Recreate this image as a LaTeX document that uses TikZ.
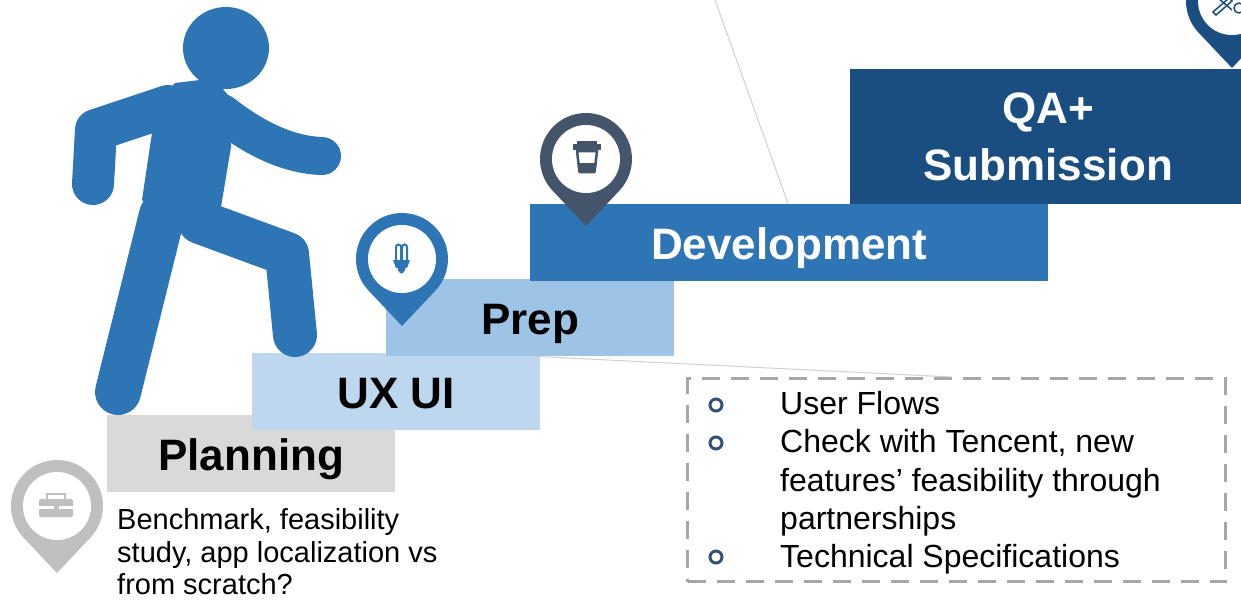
\documentclass[tikz,border=0pt]{standalone}
\usepackage{fontspec}
\setmainfont{Liberation Sans}
\definecolor{figblue}{HTML}{2E75B6}
\definecolor{plangray}{HTML}{D9D9D9}
\definecolor{uxblue}{HTML}{BDD7EE}
\definecolor{prepblue}{HTML}{9DC3E6}
\definecolor{devblue}{HTML}{2E75B6}
\definecolor{qablue}{HTML}{1B4E80}
\definecolor{slate}{HTML}{44546A}
\definecolor{bulletblue}{HTML}{34507A}
\definecolor{pingray}{HTML}{BFBFBF}
\definecolor{dashgray}{HTML}{A6A6A6}
\definecolor{leadgray}{HTML}{D0D0D0}
\begin{document}
\begin{tikzpicture}[x=1pt,y=-1pt,
  stepbox/.style={rectangle, inner sep=0pt, anchor=north west,
    font=\fontsize{44}{57}\selectfont\bfseries, align=center},
  oneline/.style={text height=34pt, text depth=0pt},
  bodytext/.style={anchor=base west, inner sep=0pt, font=\fontsize{32}{38}\selectfont},
  desctext/.style={anchor=base west, inner sep=0pt, font=\fontsize{29}{34}\selectfont},
  bulletmark/.style={circle, draw=bulletblue, line width=3pt, minimum size=12pt, inner sep=0pt},
  leadline/.style={draw=leadgray, line width=1pt},
  locpin/.pic={
    \path[pic actions] (0,67) -- (33.4,31.6) arc[start angle=43.4, end angle=-223.4, radius=46] -- cycle;
    \fill[white] (0,0) circle[radius=34];
  }]
\useasboundingbox (0,0) rectangle (1241,600);

% free end of the upper leader line
\coordinate (topend) at (715,0);

% the five steps
\node[stepbox, oneline, fill=plangray, minimum width=288pt, minimum height=77pt] (planning) at (107,415) {Planning};
\node[stepbox, oneline, fill=uxblue, minimum width=288pt, minimum height=77pt] (uxui) at (252,353) {UX UI};
\node[stepbox, oneline, fill=prepblue, minimum width=288pt, minimum height=77pt] (prep) at (386,279) {Prep};
\node[stepbox, oneline, fill=devblue, text=white, minimum width=518pt, minimum height=77pt] (dev) at (530,204) {Development};
\node[stepbox, fill=qablue, text=white, minimum width=396pt, minimum height=135pt] (qa) at (850,69) {QA+\\Submission};

\draw[leadline] ([xshift=-1pt]dev.north) -- (topend);

% climbing figure
\begin{scope}[fill=figblue, draw=figblue, line cap=round, line join=round]
  \fill (226,48) ellipse[x radius=43, y radius=41];
  \fill (175,83) -- (200,80) -- (222,88) -- (232,100) -- (231,147) -- (221,207)
        -- (180,234) -- (142,200) -- (152,133) -- (160,100) -- cycle;
  \draw[line width=42pt] (168,106) -- (96,130) -- (93,184);
  \draw[line width=38pt] (222,113) .. controls (250,135) and (285,155) .. (322,156);
  \draw[line width=44pt] (200,222) -- (287,254) -- (295,335);
  \draw[line width=46pt] (162,215) -- (118,392);
\end{scope}

% map pins
\pic[fill=pingray] (pinplan) at (57,506) {locpin};
\pic[fill=devblue] (pinprep) at (402,259) {locpin};
\pic[fill=slate] (pindev) at (586,159) {locpin};
\pic[fill=qablue] (pinqa) at (1232,1) {locpin};

% briefcase icon
\fill[pingray, rounded corners=1.5pt] (39,499) rectangle (73,517);
\draw[pingray, line width=2.5pt] (47,500) -- (47,494) -- (65,494) -- (65,500);
\fill[white] (39,506) rectangle (73,508.5);
\fill[pingray] (53.5,504) rectangle (58.5,510);

% bulb icon
\begin{scope}[draw=devblue, line width=2pt]
  \draw (396,260) -- (396,247) arc[start angle=180, end angle=360, radius=2.5] -- (401,260);
  \draw (402,260) -- (402,247) arc[start angle=180, end angle=360, radius=2.5] -- (407,260);
\end{scope}
\fill[devblue] (393,260) -- (410,260) -- (407,268) -- (396,268) -- cycle;
\fill[devblue] (398,268) rectangle (405,271);
\fill[devblue] (401.5,271) circle[radius=2.5];

% coffee cup icon
\fill[slate] (577,141) rectangle (597,144);
\fill[slate] (573,144) rectangle (601,149.5);
\draw[slate, line width=2.5pt, line join=round] (577,151) -- (597,151) -- (594.5,172) -- (579.5,172) -- cycle;
\fill[slate] (577.5,163) -- (596.5,163) -- (595.5,172) -- (578.5,172) -- cycle;

% tools icon
\begin{scope}[draw=qablue, line width=1.5pt]
  \draw (1213,12) -- (1216,15) -- (1232,1) -- (1229,-2) -- cycle;
  \draw (1218,-2) -- (1232,10);
  \draw (1239,8) circle[radius=5];
\end{scope}

% planning description
\node[desctext] (d1) at (117,529) {Benchmark, feasibility};
\node[desctext] (d2) at (117,562) {study, app localization vs};
\node[desctext] (d3) at (117,594) {from scratch?};

% notes box
\node[draw=dashgray, line width=3pt, dash pattern=on 18pt off 11pt, anchor=north west,
      inner sep=0pt, minimum width=538pt, minimum height=203pt] (notes) at (686,377) {};
\draw[leadline] ([xshift=5pt]prep.south) -- ([xshift=-5pt]notes.north);

\node[bulletmark] (b1) at (716,405) {};
\node[bulletmark] (b2) at (716,443) {};
\node[bulletmark] (b3) at (716,557) {};
\node[bodytext] (l1) at (780,414) {User Flows};
\node[bodytext] (l2) at (780,452.5) {Check with Tencent, new};
\node[bodytext] (l3) at (780,491) {features’ feasibility through};
\node[bodytext] (l4) at (780,529) {partnerships};
\node[bodytext] (l5) at (780,567.5) {Technical Specifications};
\end{tikzpicture}
\end{document}
